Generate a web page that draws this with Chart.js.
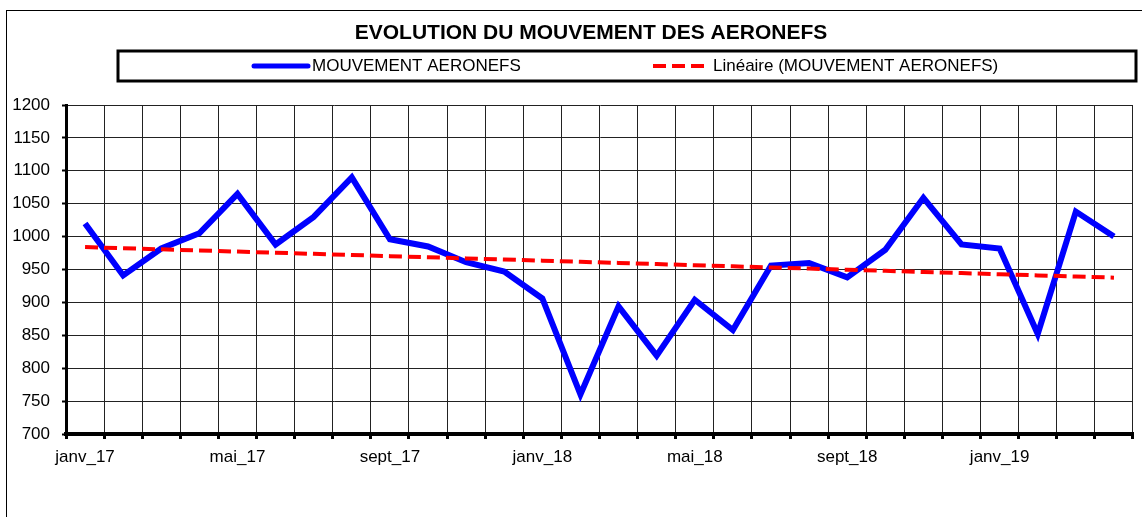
<!DOCTYPE html>
<html>
<head>
<meta charset="utf-8">
<script src="https://cdn.jsdelivr.net/npm/chart.js@4/dist/chart.umd.min.js"></script>
<style>
  html, body { margin: 0; padding: 0; background: #fff; }
  #wrap { width: 1142px; height: 517px; position: relative; }
</style>
</head>
<body>
<div id="wrap"><canvas id="mouvementChart"></canvas></div>
<script>
// months, janvier 2017 to avril 2019
var months = ['janv_17', 'févr_17', 'mars_17', 'avr_17', 'mai_17', 'juin_17', 'juil_17', 'août_17',
              'sept_17', 'oct_17', 'nov_17', 'déc_17', 'janv_18', 'févr_18', 'mars_18', 'avr_18',
              'mai_18', 'juin_18', 'juil_18', 'août_18', 'sept_18', 'oct_18', 'nov_18', 'déc_18',
              'janv_19', 'févr_19', 'mars_19', 'avr_19'];

// monthly aircraft movements
var mouvements = [1020, 941, 982, 1005, 1065, 988, 1030, 1090, 996, 985, 961, 947, 906, 760,
                  894, 819, 904, 858, 956, 960, 938, 980, 1059, 988, 982, 852, 1038, 1000];

var yTicks = { min: 700, max: 1200, step: 50 };

var titleText = 'EVOLUTION DU MOUVEMENT DES AERONEFS';
var serieLabel = 'MOUVEMENT AERONEFS';
var trendLabel = 'Linéaire (MOUVEMENT AERONEFS)';

// least squares linear trend, like the spreadsheet trendline
function linearTrend(values) {
    var n = values.length, sx = 0, sy = 0, sxy = 0, sxx = 0;
    values.forEach(function(v, i) {
        sx += i; sy += v; sxy += i * v; sxx += i * i;
    });
    var slope = (n * sxy - sx * sy) / (n * sxx - sx * sx);
    var intercept = (sy - slope * sx) / n;
    return values.map(function(v, i) { return intercept + slope * i; });
}
var tendance = linearTrend(mouvements);

var FONT = '"Liberation Sans", Arial, sans-serif';

// outer frame, title and boxed legend
var framePlugin = {
    id: 'frame',
    beforeDraw: function(chart) {
        var ctx = chart.ctx;
        ctx.save();
        ctx.fillStyle = '#fff';
        ctx.fillRect(0, 0, chart.width, chart.height);

        ctx.strokeStyle = '#000';
        ctx.lineWidth = 1;
        ctx.strokeRect(6.5, 10.5, 1160, 600);

        ctx.fillStyle = '#000';
        ctx.font = 'bold 21px ' + FONT;
        ctx.textAlign = 'center';
        ctx.textBaseline = 'middle';
        ctx.fillText(titleText, 591, 33);

        ctx.lineWidth = 3;
        ctx.strokeRect(118, 51, 1018, 30);

        // legend samples
        ctx.lineCap = 'round';
        ctx.strokeStyle = '#0000ff';
        ctx.lineWidth = 5;
        ctx.beginPath();
        ctx.moveTo(254, 66);
        ctx.lineTo(308, 66);
        ctx.stroke();

        ctx.lineCap = 'butt';
        ctx.strokeStyle = '#ff0000';
        ctx.lineWidth = 4;
        ctx.setLineDash([13, 6]);
        ctx.beginPath();
        ctx.moveTo(653, 66);
        ctx.lineTo(707, 66);
        ctx.stroke();
        ctx.setLineDash([]);

        ctx.fillStyle = '#000';
        ctx.font = '17px ' + FONT;
        ctx.textAlign = 'left';
        ctx.fillText(serieLabel, 312, 66);
        ctx.fillText(trendLabel, 713, 66);
        ctx.restore();
    }
};

var ctx = document.getElementById('mouvementChart').getContext('2d');
var mouvementChart = new Chart(ctx, {
    type: 'line',
    data: {
        labels: months,
        datasets: [{
            label: trendLabel,
            data: tendance,
            borderColor: '#ff0000',
            borderWidth: 4,
            borderDash: [13, 6],
            pointRadius: 0,
            tension: 0,
            order: 0
        }, {
            label: serieLabel,
            data: mouvements,
            borderColor: '#0000ff',
            borderWidth: 6,
            pointRadius: 0,
            tension: 0,
            borderJoinStyle: 'miter',
            order: 1
        }]
    },
    options: {
        responsive: true,
        maintainAspectRatio: false,
        animation: false,
        layout: {
            padding: { top: 105, right: 9, bottom: 0, left: 0 }
        },
        plugins: {
            legend: { display: false },
            title: { display: false },
            tooltip: { enabled: false }
        },
        scales: {
            x: {
                offset: true,
                grid: {
                    offset: true,
                    color: '#222',
                    lineWidth: 1,
                    drawTicks: true,
                    tickLength: 5,
                    tickWidth: 3,
                    tickColor: '#000'
                },
                border: { display: true, color: '#000', width: 4 },
                ticks: {
                    autoSkip: false,
                    maxRotation: 0,
                    padding: 8,
                    color: '#000',
                    font: { family: FONT, size: 17 },
                    callback: function(value, index) {
                        return index % 4 === 0 ? months[index] : '';
                    }
                },
                afterFit: function(scale) { scale.height = 83; }
            },
            y: {
                min: yTicks.min,
                max: yTicks.max,
                grid: {
                    color: '#222',
                    lineWidth: 1,
                    tickLength: 4,
                    tickWidth: 2,
                    tickColor: '#000'
                },
                border: { display: true, color: '#000', width: 3 },
                ticks: {
                    stepSize: yTicks.step,
                    padding: 12,
                    color: '#000',
                    font: { family: FONT, size: 17 },
                    callback: function(value) { return String(value); }
                },
                afterFit: function(scale) { scale.width = 66; }
            }
        }
    },
    plugins: [framePlugin]
});
</script>
</body>
</html>
